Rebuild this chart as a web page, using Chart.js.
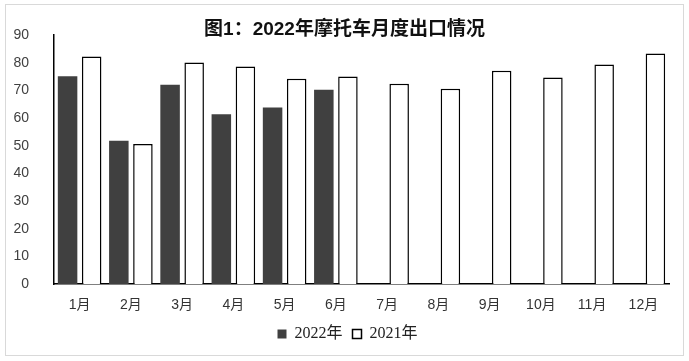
<!DOCTYPE html>
<html><head><meta charset="utf-8">
<script src="https://cdn.jsdelivr.net/npm/chart.js@4/dist/chart.umd.min.js"></script>
<style>
html,body{margin:0;padding:0;background:#fff;}
#wrap{position:relative;width:689px;height:361px;}
#frame{position:absolute;left:5px;top:4px;width:677px;height:350px;border:1px solid #d9d9d9;pointer-events:none;}
</style></head>
<body><div id="wrap"><canvas id="c" width="689" height="361"></canvas><div id="frame"></div></div>
<script>
const titleText = '图1：2022年摩托车月度出口情况';
const categories = ['1月','2月','3月','4月','5月','6月','7月','8月','9月','10月','11月','12月'];
const series2022Name = '2022年';
const series2021Name = '2021年';
const values2022 = [75.1, 51.8, 72.0, 61.4, 63.8, 70.2, null, null, null, null, null, null];
const values2021 = [82.2, 50.6, 80.1, 78.6, 74.2, 75.0, 72.4, 70.6, 77.1, 74.6, 79.3, 83.3];
const yMin = 0, yMax = 90, yStep = 10;

const sans = '"Liberation Sans", Arial, "Noto Sans CJK SC", sans-serif';
const serif = '"Liberation Serif", "Times New Roman", "Noto Sans CJK SC", serif';

const shiftBoxes = {
  id: 'shiftBoxes',
  afterLayout(chart) {
    const lg = chart.legend; if (lg) { lg.left += 13; lg.right += 13; }
    const tt = chart.titleBlock; if (tt) { tt.left += 10; tt.right += 10; }
  }
};

new Chart(document.getElementById('c'), {
  type: 'bar',
  data: {
    labels: categories,
    datasets: [
      { label: series2022Name, data: values2022, backgroundColor: '#404040', borderColor: '#404040', borderWidth: 0,
        categoryPercentage: 0.94, barPercentage: 0.81 },
      { label: series2021Name, data: values2021, backgroundColor: '#ffffff', borderColor: '#000000', borderWidth: 1.5,
        categoryPercentage: 0.94, barPercentage: 0.81 }
    ]
  },
  options: {
    responsive: false,
    animation: false,
    layout: { padding: { left: 0, right: 20, top: 0, bottom: 9 } },
    plugins: {
      title: { display: true, text: titleText, color: '#111',
        font: { family: sans, size: 19, weight: 'bold' }, padding: { top: 18.6, bottom: -6.4 } },
      legend: { position: 'bottom',
        labels: { boxWidth: 9, boxHeight: 9, padding: 10, color: '#222',
          font: { family: serif, size: 16 } } },
      tooltip: { enabled: false }
    },
    scales: {
      x: {
        z: 1,
        grid: { display: false, drawTicks: false },
        border: { display: true, color: '#000', width: 1.5 },
        ticks: { color: '#333', padding: 13, font: { family: sans, size: 14 }, maxRotation: 0 },
        afterFit: s => { s.height = 32; }
      },
      y: {
        min: yMin, max: yMax,
        grid: { display: false, drawTicks: false },
        border: { display: true, color: '#000', width: 1.5 },
        ticks: { stepSize: yStep, color: '#404040', padding: 25, font: { family: sans, size: 14 } },
        afterFit: s => { s.width = 54; }
      }
    }
  },
  plugins: [shiftBoxes]
});
</script></body></html>
